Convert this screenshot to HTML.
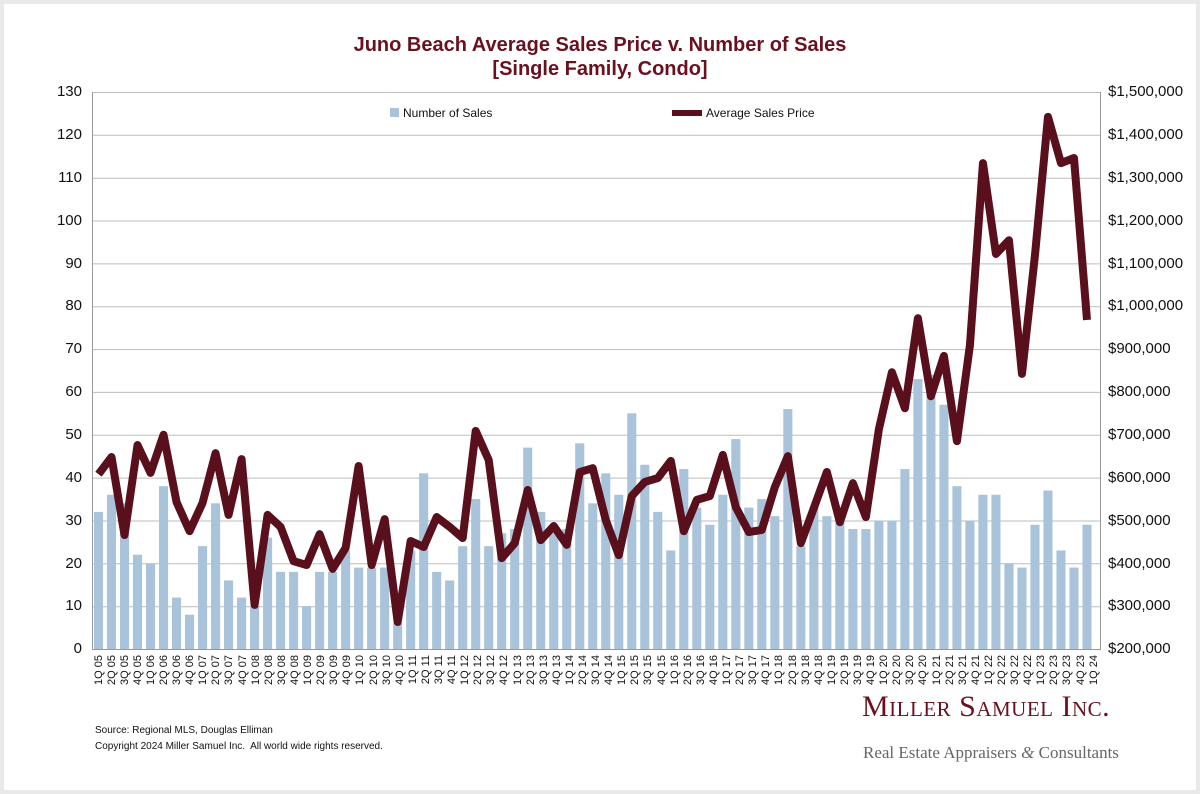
<!DOCTYPE html>
<html><head><meta charset="utf-8"><style>
body{margin:0;width:1200px;height:794px;background:#e9e9e9;position:relative;overflow:hidden;font-family:"Liberation Sans",sans-serif}
#card{position:absolute;left:4px;top:4px;width:1192px;height:786px;background:#fff}
.t{position:absolute;color:#6a1120;font-weight:bold;font-size:20px;width:1200px;text-align:center;left:0}
.yl{position:absolute;font-size:15px;color:#111;width:60px;text-align:right;left:22px}
.yr{position:absolute;font-size:15px;color:#111;left:1108px}
#xl{position:absolute;left:92px;top:655px;width:1008px;height:60px;display:flex}
#xl div{flex:1;display:flex;justify-content:center;align-items:flex-start}
#xl span{writing-mode:vertical-rl;transform:rotate(180deg);font-size:11px;color:#111;white-space:nowrap}
.f{position:absolute;font-size:10px;color:#111;left:95px}
</style></head><body><div id="card"></div>
<div class="t" style="top:34px">Juno Beach Average Sales Price v. Number of Sales</div>
<div class="t" style="top:58px">[Single Family, Condo]</div>
<svg style="position:absolute;left:0;top:0" width="1200" height="794">
<g stroke="#bdbdbd" stroke-width="1">
<line x1="92" x2="1100" y1="92.5" y2="92.5"/><line x1="92" x2="1100" y1="135.3" y2="135.3"/><line x1="92" x2="1100" y1="178.2" y2="178.2"/><line x1="92" x2="1100" y1="221" y2="221"/><line x1="92" x2="1100" y1="263.9" y2="263.9"/><line x1="92" x2="1100" y1="306.7" y2="306.7"/><line x1="92" x2="1100" y1="349.6" y2="349.6"/><line x1="92" x2="1100" y1="392.4" y2="392.4"/><line x1="92" x2="1100" y1="435.3" y2="435.3"/><line x1="92" x2="1100" y1="478.1" y2="478.1"/><line x1="92" x2="1100" y1="521" y2="521"/><line x1="92" x2="1100" y1="563.8" y2="563.8"/><line x1="92" x2="1100" y1="606.7" y2="606.7"/>
<line x1="92" x2="1100" y1="649.5" y2="649.5" stroke="#999"/>
<line x1="92.5" x2="92.5" y1="92" y2="650" stroke="#999"/><line x1="1100.5" x2="1100.5" y1="92" y2="650" stroke="#999"/>
</g>
<svg x="92" y="92" width="1008" height="557" viewBox="-0.5 0 77.5 130" preserveAspectRatio="none">
<g fill="#a9c4da" transform="translate(0,130) scale(1,-1)">
<rect x="-0.35" width="0.7" height="32"/><rect x="0.65" width="0.7" height="36"/><rect x="1.65" width="0.7" height="34"/><rect x="2.65" width="0.7" height="22"/><rect x="3.65" width="0.7" height="20"/><rect x="4.65" width="0.7" height="38"/><rect x="5.65" width="0.7" height="12"/><rect x="6.65" width="0.7" height="8"/><rect x="7.65" width="0.7" height="24"/><rect x="8.65" width="0.7" height="34"/><rect x="9.65" width="0.7" height="16"/><rect x="10.65" width="0.7" height="12"/><rect x="11.65" width="0.7" height="10"/><rect x="12.65" width="0.7" height="26"/><rect x="13.65" width="0.7" height="18"/><rect x="14.65" width="0.7" height="18"/><rect x="15.65" width="0.7" height="10"/><rect x="16.65" width="0.7" height="18"/><rect x="17.65" width="0.7" height="18"/><rect x="18.65" width="0.7" height="23"/><rect x="19.65" width="0.7" height="19"/><rect x="20.65" width="0.7" height="19"/><rect x="21.65" width="0.7" height="19"/><rect x="22.65" width="0.7" height="6"/><rect x="23.65" width="0.7" height="23"/><rect x="24.65" width="0.7" height="41"/><rect x="25.65" width="0.7" height="18"/><rect x="26.65" width="0.7" height="16"/><rect x="27.65" width="0.7" height="24"/><rect x="28.65" width="0.7" height="35"/><rect x="29.65" width="0.7" height="24"/><rect x="30.65" width="0.7" height="27"/><rect x="31.65" width="0.7" height="28"/><rect x="32.65" width="0.7" height="47"/><rect x="33.65" width="0.7" height="32"/><rect x="34.65" width="0.7" height="27"/><rect x="35.65" width="0.7" height="28"/><rect x="36.65" width="0.7" height="48"/><rect x="37.65" width="0.7" height="34"/><rect x="38.65" width="0.7" height="41"/><rect x="39.65" width="0.7" height="36"/><rect x="40.65" width="0.7" height="55"/><rect x="41.65" width="0.7" height="43"/><rect x="42.65" width="0.7" height="32"/><rect x="43.65" width="0.7" height="23"/><rect x="44.65" width="0.7" height="42"/><rect x="45.65" width="0.7" height="33"/><rect x="46.65" width="0.7" height="29"/><rect x="47.65" width="0.7" height="36"/><rect x="48.65" width="0.7" height="49"/><rect x="49.65" width="0.7" height="33"/><rect x="50.65" width="0.7" height="35"/><rect x="51.65" width="0.7" height="31"/><rect x="52.65" width="0.7" height="56"/><rect x="53.65" width="0.7" height="24"/><rect x="54.65" width="0.7" height="33"/><rect x="55.65" width="0.7" height="31"/><rect x="56.65" width="0.7" height="30"/><rect x="57.65" width="0.7" height="28"/><rect x="58.65" width="0.7" height="28"/><rect x="59.65" width="0.7" height="30"/><rect x="60.65" width="0.7" height="30"/><rect x="61.65" width="0.7" height="42"/><rect x="62.65" width="0.7" height="63"/><rect x="63.65" width="0.7" height="64"/><rect x="64.65" width="0.7" height="57"/><rect x="65.65" width="0.7" height="38"/><rect x="66.65" width="0.7" height="30"/><rect x="67.65" width="0.7" height="36"/><rect x="68.65" width="0.7" height="36"/><rect x="69.65" width="0.7" height="20"/><rect x="70.65" width="0.7" height="19"/><rect x="71.65" width="0.7" height="29"/><rect x="72.65" width="0.7" height="37"/><rect x="73.65" width="0.7" height="23"/><rect x="74.65" width="0.7" height="19"/><rect x="75.65" width="0.7" height="29"/>
</g></svg>
<svg x="92" y="92" width="1008" height="557" viewBox="-0.5 -1500 77.5 1300" preserveAspectRatio="none" overflow="visible">
<polyline fill="none" stroke="#5a0f1c" stroke-width="8" vector-effect="non-scaling-stroke" stroke-linejoin="round" points="0,-608 1,-648 2,-466 3,-676 4,-611 5,-700 6,-543 7,-475 8,-541 9,-657 10,-513 11,-643 12,-303 13,-513 14,-485 15,-405 16,-396 17,-468 18,-387 19,-436 20,-627 21,-396 22,-503 23,-263 24,-452 25,-438 26,-508 27,-485 28,-459 29,-709 30,-641 31,-412 32,-447 33,-571 34,-454 35,-487 36,-443 37,-613 38,-622 39,-501 40,-419 41,-557 42,-590 43,-599 44,-639 45,-475 46,-548 47,-557 48,-653 49,-531 50,-473 51,-478 52,-578 53,-650 54,-447 55,-529 56,-613 57,-496 58,-587 59,-508 60,-713 61,-846 62,-762 63,-972 64,-790 65,-884 66,-685 67,-909 68,-1334 69,-1122 70,-1154 71,-842 72,-1119 73,-1442 74,-1334 75,-1346 76,-968"/>
</svg>
<rect x="390" y="108" width="9" height="9" fill="#a9c4da"/>
<text x="403" y="117" font-size="12" font-family="Liberation Sans, sans-serif" fill="#111">Number of Sales</text>
<line x1="672" x2="702" y1="113" y2="113" stroke="#5a0f1c" stroke-width="6"/>
<text x="706" y="117" font-size="12" font-family="Liberation Sans, sans-serif" fill="#111">Average Sales Price</text>
</svg>
<div class="yl" style="top:83px">130</div><div class="yl" style="top:126px">120</div><div class="yl" style="top:169px">110</div><div class="yl" style="top:212px">100</div><div class="yl" style="top:255px">90</div><div class="yl" style="top:297px">80</div><div class="yl" style="top:340px">70</div><div class="yl" style="top:383px">60</div><div class="yl" style="top:426px">50</div><div class="yl" style="top:469px">40</div><div class="yl" style="top:512px">30</div><div class="yl" style="top:555px">20</div><div class="yl" style="top:597px">10</div><div class="yl" style="top:640px">0</div>
<div class="yr" style="top:83px">$1,500,000</div><div class="yr" style="top:126px">$1,400,000</div><div class="yr" style="top:169px">$1,300,000</div><div class="yr" style="top:212px">$1,200,000</div><div class="yr" style="top:255px">$1,100,000</div><div class="yr" style="top:297px">$1,000,000</div><div class="yr" style="top:340px">$900,000</div><div class="yr" style="top:383px">$800,000</div><div class="yr" style="top:426px">$700,000</div><div class="yr" style="top:469px">$600,000</div><div class="yr" style="top:512px">$500,000</div><div class="yr" style="top:555px">$400,000</div><div class="yr" style="top:597px">$300,000</div><div class="yr" style="top:640px">$200,000</div>
<div id="xl">
<div><span>1Q 05</span></div><div><span>2Q 05</span></div><div><span>3Q 05</span></div><div><span>4Q 05</span></div><div><span>1Q 06</span></div><div><span>2Q 06</span></div><div><span>3Q 06</span></div><div><span>4Q 06</span></div><div><span>1Q 07</span></div><div><span>2Q 07</span></div><div><span>3Q 07</span></div><div><span>4Q 07</span></div><div><span>1Q 08</span></div><div><span>2Q 08</span></div><div><span>3Q 08</span></div><div><span>4Q 08</span></div><div><span>1Q 09</span></div><div><span>2Q 09</span></div><div><span>3Q 09</span></div><div><span>4Q 09</span></div><div><span>1Q 10</span></div><div><span>2Q 10</span></div><div><span>3Q 10</span></div><div><span>4Q 10</span></div><div><span>1Q 11</span></div><div><span>2Q 11</span></div><div><span>3Q 11</span></div><div><span>4Q 11</span></div><div><span>1Q 12</span></div><div><span>2Q 12</span></div><div><span>3Q 12</span></div><div><span>4Q 12</span></div><div><span>1Q 13</span></div><div><span>2Q 13</span></div><div><span>3Q 13</span></div><div><span>4Q 13</span></div><div><span>1Q 14</span></div><div><span>2Q 14</span></div><div><span>3Q 14</span></div><div><span>4Q 14</span></div><div><span>1Q 15</span></div><div><span>2Q 15</span></div><div><span>3Q 15</span></div><div><span>4Q 15</span></div><div><span>1Q 16</span></div><div><span>2Q 16</span></div><div><span>3Q 16</span></div><div><span>4Q 16</span></div><div><span>1Q 17</span></div><div><span>2Q 17</span></div><div><span>3Q 17</span></div><div><span>4Q 17</span></div><div><span>1Q 18</span></div><div><span>2Q 18</span></div><div><span>3Q 18</span></div><div><span>4Q 18</span></div><div><span>1Q 19</span></div><div><span>2Q 19</span></div><div><span>3Q 19</span></div><div><span>4Q 19</span></div><div><span>1Q 20</span></div><div><span>2Q 20</span></div><div><span>3Q 20</span></div><div><span>4Q 20</span></div><div><span>1Q 21</span></div><div><span>2Q 21</span></div><div><span>3Q 21</span></div><div><span>4Q 21</span></div><div><span>1Q 22</span></div><div><span>2Q 22</span></div><div><span>3Q 22</span></div><div><span>4Q 22</span></div><div><span>1Q 23</span></div><div><span>2Q 23</span></div><div><span>3Q 23</span></div><div><span>4Q 23</span></div><div><span>1Q 24</span></div>
</div>
<div class="f" style="top:725px">Source: Regional MLS, Douglas Elliman</div>
<div class="f" style="top:741px">Copyright 2024 Miller Samuel Inc.&nbsp; All world wide rights reserved.</div>
<div style="position:absolute;left:862px;top:690px;font-family:'Liberation Serif',serif;font-size:30px;color:#6a1120;font-variant:small-caps;letter-spacing:0.5px">Miller Samuel Inc.</div>
<div style="position:absolute;left:863px;top:743px;font-family:'Liberation Serif',serif;font-size:17px;color:#666">Real Estate Appraisers <i>&amp;</i> Consultants</div>
</body></html>
